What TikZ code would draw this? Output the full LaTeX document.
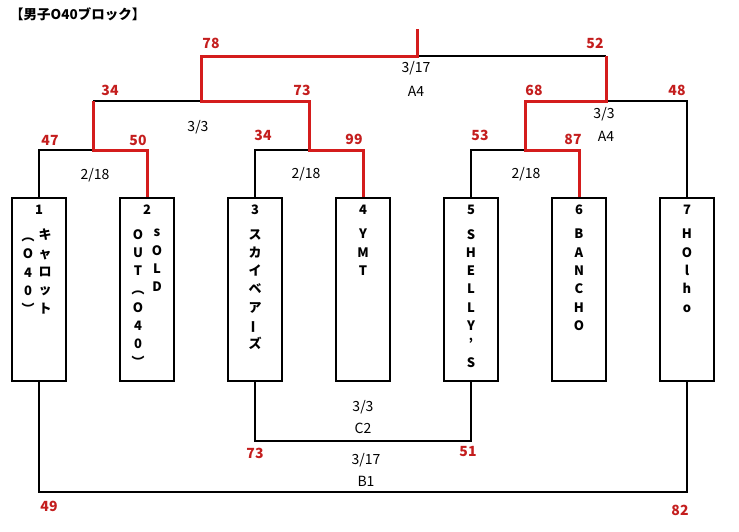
\documentclass[tikz,border=0pt]{standalone}
\usepackage{fontspec}
\usepackage{graphicx}
\setmainfont{Noto Sans CJK JP}
\usetikzlibrary{positioning}
\definecolor{winred}{RGB}{212,28,28}
\definecolor{scorered}{RGB}{196,30,30}
\newcommand{\vopen}{\rotatebox[origin=c]{-90}{（}}
\newcommand{\vclose}{\rotatebox[origin=c]{-90}{）}}

\begin{document}
\begin{tikzpicture}[x=1pt,y=-1pt]
\tikzset{
  teambox/.style={draw,line width=1.8pt,minimum width=54pt,minimum height=183pt,inner sep=0pt},
  teamno/.style={font=\bfseries\fontsize{13}{13}\selectfont,inner sep=0pt},
  teamname/.style={anchor=north,align=center,inner sep=0pt,font=\bfseries\fontsize{13}{18.3}\selectfont},
  score/.style={text=scorered,font=\bfseries\fontsize{14}{14}\selectfont,inner sep=0pt},
  info/.style={font=\fontsize{14}{14}\selectfont,inner sep=0pt},
  lost/.style={line width=2pt},
  won/.style={line width=3pt,draw=winred}
}
\useasboundingbox (0,0) rectangle (739,531);
\node[font=\bfseries\fontsize{13.5}{13.5}\selectfont,anchor=west,inner sep=0pt] (title) at (10,14) {【男子O40ブロック】};
% team boxes
\node[teambox] (b1) at (39,289.5) {};
\node[teambox] (b2) at (147,289.5) {};
\node[teambox] (b3) at (255,289.5) {};
\node[teambox] (b4) at (363,289.5) {};
\node[teambox] (b5) at (471,289.5) {};
\node[teambox] (b6) at (579,289.5) {};
\node[teambox] (b7) at (687,289.5) {};
\node[teamno] (n1) [below=8pt of b1.north] {1};
\node[teamno] (n2) [below=8pt of b2.north] {2};
\node[teamno] (n3) [below=8pt of b3.north] {3};
\node[teamno] (n4) [below=8pt of b4.north] {4};
\node[teamno] (n5) [below=8pt of b5.north] {5};
\node[teamno] (n6) [below=8pt of b6.north] {6};
\node[teamno] (n7) [below=8pt of b7.north] {7};
\node[teamname] (t1r) at (45,229) {キ\\ャ\\ロ\\ッ\\ト};
\node[teamname] (t1l) at (28,229) {\vopen\\O\\4\\0\\\vclose};
\node[teamname] (t2r) at (157,229) {s\\O\\L\\D};
\node[teamname] (t2l) at (138,229) {O\\U\\T\\\vopen\\O\\4\\0\\\vclose};
\node[teamname] (t3) at (255,229) {ス\\カ\\イ\\ベ\\ア\\\rotatebox[origin=c]{90}{ー}\\ズ};
\node[teamname] (t4) at (363,229) {Y\\M\\T};
\node[teamname] (t5) at (471,229) {S\\H\\E\\L\\L\\Y\\’\\S};
\node[teamname] (t6) at (579,229) {B\\A\\N\\C\\H\\O};
\node[teamname] (t7) at (687,229) {H\\O\\l\\h\\o};
% bracket joints
\coordinate (j12) at (93,150);
\coordinate (j34) at (309,150);
\coordinate (j56) at (525,150);
\coordinate (jL) at (201,101);
\coordinate (jR) at (606,101);
\coordinate (jF) at (417,56);
\coordinate (top) at (417,29);
\coordinate (jC) at (363,441);
\coordinate (jB) at (363,492);
% lines
\draw[lost] (b1.north) |- (j12);
\draw[lost] (b3.north) |- (j34);
\draw[lost] (b5.north) |- (j56);
\draw[lost] (b7.north) |- (jR);
\draw[lost] (j12 |- jL) -- (jL);
\draw[lost] (jR |- jF) -- (jF);
\draw[lost] (b3.south) |- (jC) -| (b5.south);
\draw[lost] (b1.south) |- (jB) -| (b7.south);
\draw[won] (b2.north) |- (j12) -- (j12 |- jL);
\draw[won] (b4.north) |- (j34) |- (jL) |- (jF) -- (top);
\draw[won] (b6.north) |- (j56) |- (jR) -- (jR |- jF);
% scores
\node[score] (s1) at (211,43) {78};
\node[score] (s2) at (595,43) {52};
\node[score] (s3) at (110,90) {34};
\node[score] (s4) at (302,90) {73};
\node[score] (s5) at (534,90) {68};
\node[score] (s6) at (677,90) {48};
\node[score] (s7) at (50,140) {47};
\node[score] (s8) at (138,140) {50};
\node[score] (s9) at (263,135) {34};
\node[score] (s10) at (354,139) {99};
\node[score] (s11) at (480,135) {53};
\node[score] (s12) at (573,139) {87};
\node[score] (s13) at (255,453) {73};
\node[score] (s14) at (468,452) {51};
\node[score] (s15) at (49,506) {49};
\node[score] (s16) at (680,510) {82};
% dates and courts
\node[info] (d1) at (416,68) {3/17};
\node[info] (c1) at (416,91) {A4};
\node[info] (d2) at (198,127) {3/3};
\node[info] (d3) at (95,175) {2/18};
\node[info] (d4) at (306,174) {2/18};
\node[info] (d5) at (604,114) {3/3};
\node[info] (c5) at (606,136) {A4};
\node[info] (d6) at (526,174) {2/18};
\node[info] (d7) at (363,407) {3/3};
\node[info] (c7) at (363,428) {C2};
\node[info] (d8) at (366,460) {3/17};
\node[info] (c8) at (366,481) {B1};
\end{tikzpicture}
\end{document}
